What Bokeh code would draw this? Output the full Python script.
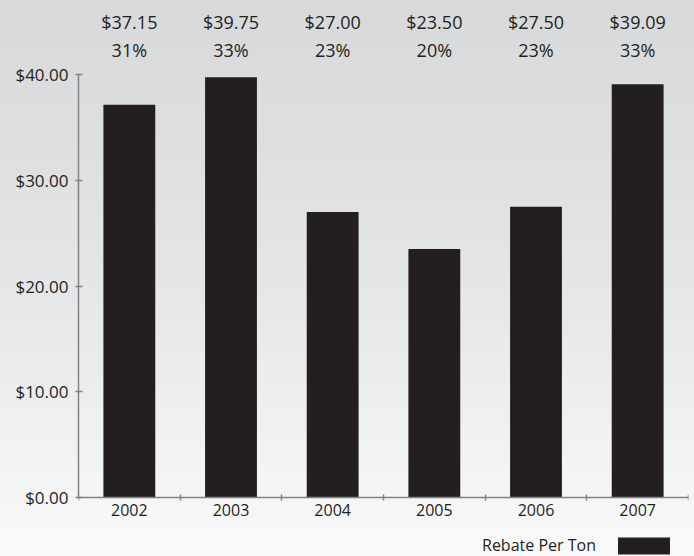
from bokeh.plotting import figure
from bokeh.models import Range1d, FixedTicker, Legend, LegendItem
from bokeh.core.properties import value
from bokeh.embed import file_html
from bokeh.resources import INLINE

# ---- data ----
years = ["2002", "2003", "2004", "2005", "2006", "2007"]
rebate = [37.15, 39.75, 27.00, 23.50, 27.50, 39.09]
rebate_labels = ["$37.15", "$39.75", "$27.00", "$23.50", "$27.50", "$39.09"]
pct_labels = ["31%", "33%", "23%", "20%", "23%", "33%"]
y_ticks = [0, 10, 20, 30, 40]
y_tick_labels = ["$0.00", "$10.00", "$20.00", "$30.00", "$40.00"]
series_name = "Rebate Per Ton"

FONT = "Open Sans"
DARK = "#231f20"
GRAY = "#808285"

n = len(years)
centers = [i + 0.5 for i in range(n)]
edges = list(range(n + 1))

p = figure(width=694, height=556, output_backend="svg", toolbar_location=None,
           x_range=Range1d(0, n), y_range=Range1d(-5.58, 47.0),
           min_border_left=78, min_border_right=6, min_border_top=0,
           min_border_bottom=0)
p.styles = {
    "background": "linear-gradient(to bottom, #d8d9db 0%, #dedfe1 27%, "
                  "#e6e7e9 54%, #f1f2f3 81%, #fafafa 100%)",
}
p.background_fill_color = None
p.border_fill_color = None
p.outline_line_color = None
p.grid.visible = False

# ---- y axis ----
ya = p.yaxis[0]
ya.ticker = FixedTicker(ticks=y_ticks)
ya.major_label_overrides = dict(zip(y_ticks, y_tick_labels))
ya.bounds = (0, 40)
ya.axis_line_color = GRAY
ya.axis_line_width = 1.5
ya.major_tick_line_color = GRAY
ya.major_tick_line_width = 1.5
ya.major_tick_in = 4
ya.major_tick_out = 3
ya.minor_tick_line_color = None
ya.major_label_standoff = 7
ya.major_label_text_font = FONT
ya.major_label_text_font_size = "17px"
ya.major_label_text_color = DARK

# ---- x axis (drawn at y = 0 inside the frame) ----
xa = p.xaxis[0]
xa.fixed_location = 0
xa.ticker = FixedTicker(ticks=centers, minor_ticks=edges)
xa.major_label_overrides = dict(zip(centers, years))
xa.axis_line_color = GRAY
xa.axis_line_width = 1.5
xa.major_tick_in = 0
xa.major_tick_out = 0
xa.major_tick_line_color = None
xa.minor_tick_line_color = GRAY
xa.minor_tick_line_width = 1.5
xa.minor_tick_in = 3
xa.minor_tick_out = 3
xa.major_label_standoff = 4
xa.major_label_text_font = FONT
xa.major_label_text_font_size = "16px"
xa.major_label_text_color = DARK

# ---- bars ----
bars = p.vbar(x=centers, top=rebate, bottom=0, width=0.51,
              fill_color=DARK, line_color=None)

# ---- labels above ----
p.text(x=centers, y=45.0, text=rebate_labels, text_align="center",
       text_baseline="middle", text_font=value(FONT), text_font_size="18px",
       text_color=DARK)
p.text(x=centers, y=42.35, text=pct_labels, text_align="center",
       text_baseline="middle", text_font=value(FONT), text_font_size="18px",
       text_color=DARK)

# ---- legend (label left of swatch) ----
empty = p.vbar(x=[], top=[], width=0.5, fill_alpha=0, line_alpha=0)
legend = Legend(
    items=[LegendItem(label=series_name, renderers=[empty]),
           LegendItem(label="", renderers=[bars])],
    location=(334, 0), orientation="horizontal",
    glyph_width=65, glyph_height=21, label_standoff=5, spacing=15,
    padding=0, margin=0, border_line_color=None, background_fill_alpha=0,
    label_text_font=FONT, label_text_font_size="16px", label_text_color=DARK,
)
p.add_layout(legend)

open("out.html", "w").write(file_html(p, INLINE))
